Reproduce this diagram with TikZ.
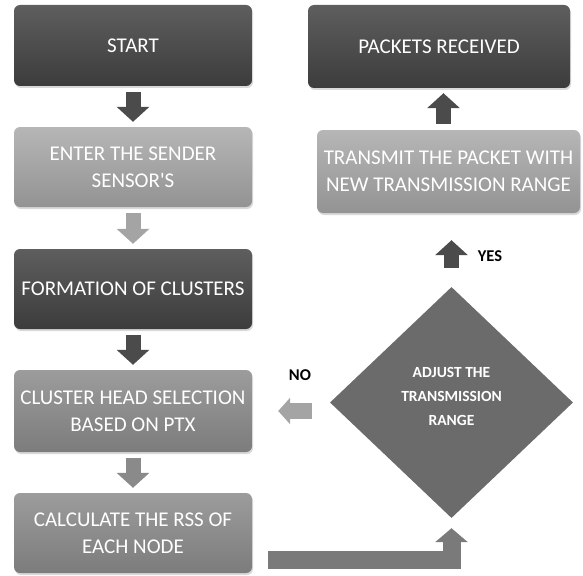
\documentclass[tikz,border=0pt]{standalone}
\usepackage{fontspec}
\setmainfont{Carlito}[Ligatures=TeXOff]
\usetikzlibrary{shapes.geometric,arrows.meta,shadows}
\definecolor{dkA}{HTML}{5E5E5E}
\definecolor{dkB}{HTML}{3C3C3C}
\definecolor{ltA}{HTML}{B6B6B6}
\definecolor{ltB}{HTML}{939393}
\definecolor{mdA}{HTML}{9C9C9C}
\definecolor{mdB}{HTML}{7C7C7C}
\definecolor{diafill}{HTML}{6B6B6B}
\definecolor{arrdk}{HTML}{4B4B4B}
\definecolor{arrlt}{HTML}{A4A4A4}
\definecolor{arrmd}{HTML}{8A8A8A}
\definecolor{arrbot}{HTML}{7A7A7A}
\begin{document}
\begin{tikzpicture}[x=1pt,y=-1pt,
  box/.style={rectangle, rounded corners=6pt, minimum width=238pt, minimum height=81pt,
    inner sep=1pt, align=center, text=white, font=\fontsize{21}{27}\selectfont,
    drop shadow={opacity=0.3, shadow xshift=1pt, shadow yshift=-2pt}},
  darkbox/.style={box, top color=dkA, bottom color=dkB},
  lightbox/.style={box, top color=ltA, bottom color=ltB},
  midbox/.style={box, top color=mdA, bottom color=mdB},
  conn/.style={line width=15pt, -{Triangle[width=32pt,length=15pt]}, shorten <=6pt, shorten >=5pt},
  lbl/.style={font=\fontsize{16.5}{18}\selectfont\bfseries, text=black}
]
\useasboundingbox (0,0) rectangle (583,575);
\node[darkbox] (start) at (133,45.5) {START};
\node[lightbox, minimum height=80pt] (enter) at (133,167) {ENTER THE SENDER\\SENSOR'S};
\node[darkbox, minimum height=80pt] (form) at (133,289) {FORMATION OF CLUSTERS};
\node[midbox, minimum height=82pt] (head) at (133,411) {CLUSTER HEAD SELECTION\\BASED ON PTX};
\node[midbox, minimum height=80pt] (calc) at (133,533) {CALCULATE THE RSS OF\\EACH NODE};
\node[darkbox, minimum width=262pt, minimum height=83pt] (pkt) at (439,46.5) {PACKETS RECEIVED};
\node[lightbox, minimum width=263pt, minimum height=83pt] (trans) at (448.5,171.5) {TRANSMIT THE PACKET WITH\\NEW TRANSMISSION RANGE};
\node[diamond, fill=diafill, minimum width=243pt, minimum height=231pt, inner sep=0pt,
  align=center, text=white, font=\fontsize{15.5}{24}\selectfont\bfseries] (dia) at (451.5,402.5)
  {ADJUST THE\\TRANSMISSION\\RANGE\\[-11pt]};
\node[lbl] (yes) at (490,256) {YES};
\node[lbl] (no) at (300,375) {NO};

\draw[conn, arrdk] (start) -- (enter);
\draw[conn, arrlt] (enter) -- (form);
\draw[conn, arrdk] (form) -- (head);
\draw[conn, arrmd] (head) -- (calc);
\draw[line width=18pt, arrbot, line join=miter, -{Triangle[width=32pt,length=14pt]}, shorten >=10pt]
  ([xshift=16pt,yshift=-27pt]calc.east) -| (dia.south);
\draw[line width=16pt, arrlt, -{Triangle[width=26pt,length=12pt]}, shorten <=18pt, shorten >=26pt]
  (dia.west |- head.east) -- (head.east);
\draw[conn, arrdk, shorten <=19pt, shorten >=27pt] (dia.north) -- (dia.north |- trans.south);
\draw[conn, arrdk] ([xshift=-5pt]trans.north) -- ([xshift=-5pt]trans.north |- pkt.south);
\end{tikzpicture}
\end{document}
